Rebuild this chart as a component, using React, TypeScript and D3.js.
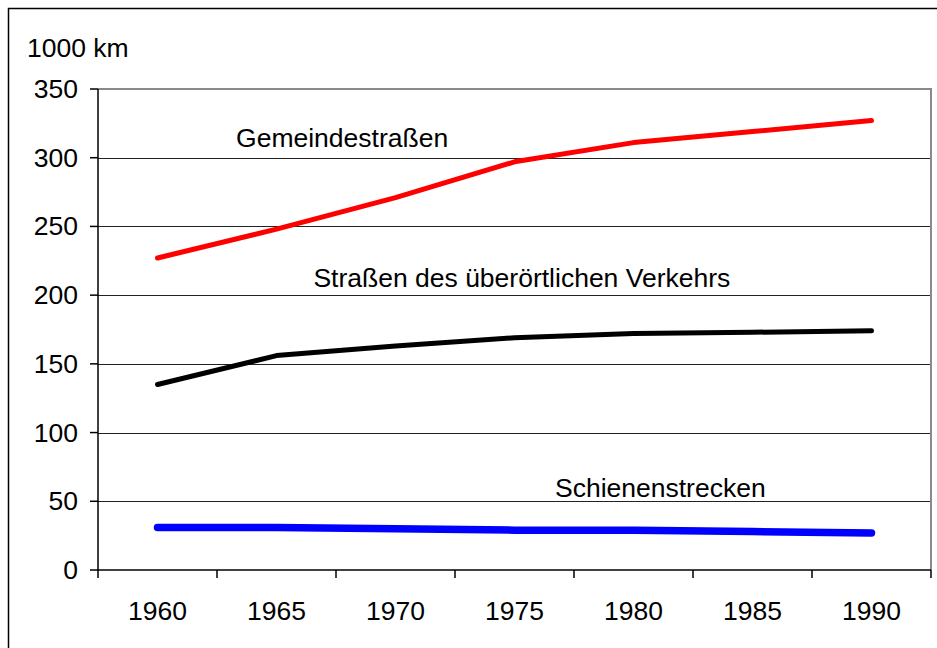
import * as d3 from 'd3';
import {useEffect, useRef} from 'react';

const years = ['1960', '1965', '1970', '1975', '1980', '1985', '1990'];
const gemeindestrassen = [227, 248, 271, 297, 311, 319, 327];
const ueberoertlich = [135, 156, 163, 169, 172, 173, 174];
const schienen = [31, 31, 30, 29, 29, 28, 27];
const yTicks = [0, 50, 100, 150, 200, 250, 300, 350];

// series label anchors: x in category-index units, y in 1000 km
const seriesLabels = [
  {text: 'Gemeindestraßen', at: 0.66, value: 308},
  {text: 'Straßen des überörtlichen Verkehrs', at: 1.31, value: 206},
  {text: 'Schienenstrecken', at: 3.34, value: 53},
];

const W = 937;
const H = 648;

export default function App() {
  const ref = useRef<SVGSVGElement>(null);

  useEffect(() => {
    const svg = d3.select(ref.current);
    svg.selectAll('*').remove();

    const left = 98, right = 931, top = 89, bottom = 570;
    const font = '"Liberation Sans", Arial, Helvetica, sans-serif';
    const stretch = 1.04; // text in the original is a bit wide

    const x = d3.scaleBand().domain(years).range([left, right]);
    const xIdx = d3.scaleLinear().domain([-0.5, years.length - 0.5]).range([left, right]);
    const y = d3.scaleLinear().domain([0, 350]).range([bottom, top]);

    const txt = (g, s, tx, ty, anchor = 'start') =>
      g.append('text')
        .attr('transform', `translate(${tx},${ty}) scale(${stretch},1)`)
        .attr('text-anchor', anchor)
        .attr('font-family', font)
        .attr('font-size', 25.5)
        .attr('fill', '#000')
        .text(s);

    svg.append('rect').attr('width', W).attr('height', H).attr('fill', '#fff');

    // outer chart frame (right/bottom run off the picture)
    svg.append('rect')
      .attr('x', 8.5).attr('y', 8.5).attr('width', W + 20).attr('height', H + 20)
      .attr('fill', 'none').attr('stroke', '#000').attr('stroke-width', 1.5);

    // gridlines
    svg.append('g').selectAll('line')
      .data(yTicks.filter(v => v > 0 && v < 350))
      .join('line')
      .attr('x1', left).attr('x2', right)
      .attr('y1', d => Math.round(y(d)) + 0.5).attr('y2', d => Math.round(y(d)) + 0.5)
      .attr('stroke', '#222').attr('stroke-width', 1);

    // plot area border (top/right, gray)
    svg.append('path')
      .attr('d', `M${left},${top} H${right} V${bottom}`)
      .attr('fill', 'none').attr('stroke', '#8a8a8a').attr('stroke-width', 2);

    // axes
    const axes = svg.append('g').attr('stroke', '#000').attr('stroke-width', 1.5);
    axes.append('line').attr('x1', left).attr('x2', left).attr('y1', top).attr('y2', bottom);
    axes.append('line').attr('x1', left).attr('x2', right).attr('y1', bottom).attr('y2', bottom);
    axes.selectAll('.yt').data(yTicks).join('line').attr('class', 'yt')
      .attr('x1', left - 8).attr('x2', left)
      .attr('y1', d => y(d)).attr('y2', d => y(d));
    const bounds = years.map((_, i) => xIdx(i - 0.5)).concat([xIdx(years.length - 0.5)]);
    axes.selectAll('.xt').data(bounds).join('line').attr('class', 'xt')
      .attr('x1', d => d).attr('x2', d => d)
      .attr('y1', bottom).attr('y2', bottom + 8);

    // tick labels
    const labels = svg.append('g');
    yTicks.forEach(v => txt(labels, String(v), 78, y(v) + 9, 'end'));
    years.forEach(yr => txt(labels, yr, x(yr) + x.bandwidth() / 2, 620, 'middle'));
    txt(labels, '1000 km', 27, 57);

    // series
    const line = d3.line<number>()
      .x((_, i) => x(years[i]) + x.bandwidth() / 2)
      .y(d => y(d));
    const series = [
      {data: gemeindestrassen, color: '#ff0000', width: 5},
      {data: ueberoertlich, color: '#000000', width: 5},
      {data: schienen, color: '#0000ff', width: 7.5},
    ];
    svg.append('g').selectAll('path')
      .data(series)
      .join('path')
      .attr('d', d => line(d.data))
      .attr('fill', 'none')
      .attr('stroke', d => d.color)
      .attr('stroke-width', d => d.width)
      .attr('stroke-linecap', 'round')
      .attr('stroke-linejoin', 'round');

    const ann = svg.append('g');
    seriesLabels.forEach(l => txt(ann, l.text, xIdx(l.at), y(l.value)));
  }, []);

  return (
    <svg ref={ref} width={W} height={H}
      style={{position: 'absolute', left: 0, top: 0, display: 'block'}} />
  );
}
